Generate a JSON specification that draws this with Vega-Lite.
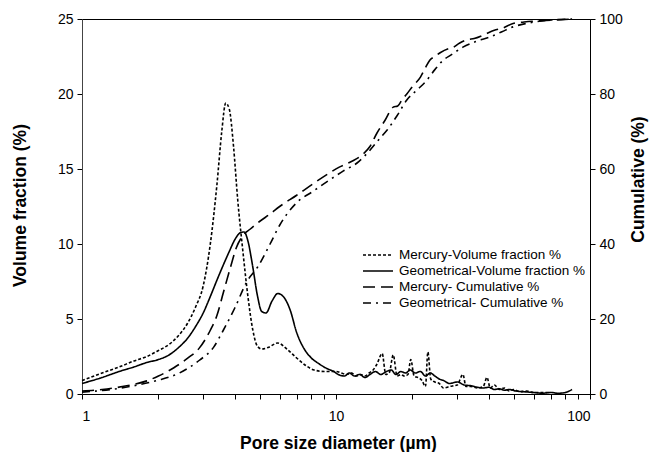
{
  "$schema": "https://vega.github.io/schema/vega-lite/v6.json",
  "autosize": {"type": "none"},
  "width": 508,
  "height": 375,
  "padding": {"left": 82, "top": 19, "right": 59, "bottom": 58},
  "background": "white",
  "config": {
    "view": {"stroke": "black", "strokeWidth": 1},
    "axis": {"grid": false, "labelFont": "Liberation Sans", "labelFontSize": 14, "labelColor": "black", "titleFont": "Liberation Sans", "titleFontSize": 17.5, "titleFontWeight": "bold", "titleColor": "black", "domainColor": "black", "tickColor": "black", "tickSize": 5}
  },
  "datasets": {
    "vol": [
      {"d":1.0,"v":0.9,"s":"Mercury-Volume fraction %"},{"d":1.2,"v":1.4,"s":"Mercury-Volume fraction %"},{"d":1.4,"v":1.8,"s":"Mercury-Volume fraction %"},{"d":1.6,"v":2.2,"s":"Mercury-Volume fraction %"},{"d":1.8,"v":2.5,"s":"Mercury-Volume fraction %"},{"d":2.0,"v":2.9,"s":"Mercury-Volume fraction %"},{"d":2.2,"v":3.3,"s":"Mercury-Volume fraction %"},{"d":2.4,"v":3.9,"s":"Mercury-Volume fraction %"},{"d":2.6,"v":4.7,"s":"Mercury-Volume fraction %"},{"d":2.8,"v":5.8,"s":"Mercury-Volume fraction %"},{"d":3.0,"v":7.2,"s":"Mercury-Volume fraction %"},{"d":3.2,"v":10.0,"s":"Mercury-Volume fraction %"},{"d":3.4,"v":14.0,"s":"Mercury-Volume fraction %"},{"d":3.55,"v":17.5,"s":"Mercury-Volume fraction %"},{"d":3.68,"v":19.4,"s":"Mercury-Volume fraction %"},{"d":3.8,"v":19.0,"s":"Mercury-Volume fraction %"},{"d":3.95,"v":16.5,"s":"Mercury-Volume fraction %"},{"d":4.1,"v":13.0,"s":"Mercury-Volume fraction %"},{"d":4.3,"v":9.5,"s":"Mercury-Volume fraction %"},{"d":4.5,"v":6.5,"s":"Mercury-Volume fraction %"},{"d":4.7,"v":4.3,"s":"Mercury-Volume fraction %"},{"d":4.9,"v":3.2,"s":"Mercury-Volume fraction %"},{"d":5.1,"v":3.0,"s":"Mercury-Volume fraction %"},{"d":5.4,"v":3.1,"s":"Mercury-Volume fraction %"},{"d":5.9,"v":3.4,"s":"Mercury-Volume fraction %"},{"d":6.4,"v":3.0,"s":"Mercury-Volume fraction %"},{"d":7.0,"v":2.4,"s":"Mercury-Volume fraction %"},{"d":7.6,"v":1.9,"s":"Mercury-Volume fraction %"},{"d":8.2,"v":1.6,"s":"Mercury-Volume fraction %"},{"d":9.0,"v":1.5,"s":"Mercury-Volume fraction %"},{"d":10.0,"v":1.5,"s":"Mercury-Volume fraction %"},{"d":10.5,"v":1.4,"s":"Mercury-Volume fraction %"},{"d":11,"v":1.3,"s":"Mercury-Volume fraction %"},{"d":11.5,"v":1.4,"s":"Mercury-Volume fraction %"},{"d":12,"v":1.2,"s":"Mercury-Volume fraction %"},{"d":12.5,"v":1.3,"s":"Mercury-Volume fraction %"},{"d":13,"v":1.2,"s":"Mercury-Volume fraction %"},{"d":13.5,"v":1.4,"s":"Mercury-Volume fraction %"},{"d":14,"v":1.6,"s":"Mercury-Volume fraction %"},{"d":14.5,"v":2.0,"s":"Mercury-Volume fraction %"},{"d":15.2,"v":2.7,"s":"Mercury-Volume fraction %"},{"d":15.7,"v":1.3,"s":"Mercury-Volume fraction %"},{"d":16.2,"v":1.4,"s":"Mercury-Volume fraction %"},{"d":16.8,"v":2.6,"s":"Mercury-Volume fraction %"},{"d":17.4,"v":1.2,"s":"Mercury-Volume fraction %"},{"d":18,"v":1.3,"s":"Mercury-Volume fraction %"},{"d":18.6,"v":1.2,"s":"Mercury-Volume fraction %"},{"d":19.2,"v":1.3,"s":"Mercury-Volume fraction %"},{"d":19.7,"v":2.3,"s":"Mercury-Volume fraction %"},{"d":20.3,"v":1.2,"s":"Mercury-Volume fraction %"},{"d":21,"v":1.1,"s":"Mercury-Volume fraction %"},{"d":21.8,"v":0.9,"s":"Mercury-Volume fraction %"},{"d":22.5,"v":0.5,"s":"Mercury-Volume fraction %"},{"d":23,"v":2.8,"s":"Mercury-Volume fraction %"},{"d":23.6,"v":1.0,"s":"Mercury-Volume fraction %"},{"d":24.5,"v":0.8,"s":"Mercury-Volume fraction %"},{"d":25.5,"v":0.7,"s":"Mercury-Volume fraction %"},{"d":26.5,"v":0.4,"s":"Mercury-Volume fraction %"},{"d":28,"v":0.5,"s":"Mercury-Volume fraction %"},{"d":30,"v":0.6,"s":"Mercury-Volume fraction %"},{"d":31.6,"v":1.3,"s":"Mercury-Volume fraction %"},{"d":32.5,"v":0.5,"s":"Mercury-Volume fraction %"},{"d":34,"v":0.5,"s":"Mercury-Volume fraction %"},{"d":36,"v":0.4,"s":"Mercury-Volume fraction %"},{"d":38,"v":0.5,"s":"Mercury-Volume fraction %"},{"d":39.3,"v":1.1,"s":"Mercury-Volume fraction %"},{"d":40.5,"v":0.4,"s":"Mercury-Volume fraction %"},{"d":42,"v":0.6,"s":"Mercury-Volume fraction %"},{"d":44,"v":0.3,"s":"Mercury-Volume fraction %"},{"d":46,"v":0.4,"s":"Mercury-Volume fraction %"},{"d":48,"v":0.2,"s":"Mercury-Volume fraction %"},{"d":50,"v":0.3,"s":"Mercury-Volume fraction %"},{"d":53,"v":0.15,"s":"Mercury-Volume fraction %"},{"d":56,"v":0.2,"s":"Mercury-Volume fraction %"},{"d":60,"v":0.1,"s":"Mercury-Volume fraction %"},{"d":65,"v":0.1,"s":"Mercury-Volume fraction %"},{"d":70,"v":0.1,"s":"Mercury-Volume fraction %"},

      {"d":1.0,"v":0.7,"s":"Geometrical-Volume fraction %"},{"d":1.2,"v":1.1,"s":"Geometrical-Volume fraction %"},{"d":1.4,"v":1.5,"s":"Geometrical-Volume fraction %"},{"d":1.6,"v":1.8,"s":"Geometrical-Volume fraction %"},{"d":1.8,"v":2.1,"s":"Geometrical-Volume fraction %"},{"d":2.0,"v":2.3,"s":"Geometrical-Volume fraction %"},{"d":2.2,"v":2.6,"s":"Geometrical-Volume fraction %"},{"d":2.4,"v":3.1,"s":"Geometrical-Volume fraction %"},{"d":2.6,"v":3.7,"s":"Geometrical-Volume fraction %"},{"d":2.8,"v":4.5,"s":"Geometrical-Volume fraction %"},{"d":3.0,"v":5.4,"s":"Geometrical-Volume fraction %"},{"d":3.2,"v":6.5,"s":"Geometrical-Volume fraction %"},{"d":3.4,"v":7.6,"s":"Geometrical-Volume fraction %"},{"d":3.6,"v":8.6,"s":"Geometrical-Volume fraction %"},{"d":3.8,"v":9.5,"s":"Geometrical-Volume fraction %"},{"d":4.0,"v":10.3,"s":"Geometrical-Volume fraction %"},{"d":4.2,"v":10.75,"s":"Geometrical-Volume fraction %"},{"d":4.35,"v":10.8,"s":"Geometrical-Volume fraction %"},{"d":4.5,"v":10.2,"s":"Geometrical-Volume fraction %"},{"d":4.7,"v":8.5,"s":"Geometrical-Volume fraction %"},{"d":4.9,"v":6.6,"s":"Geometrical-Volume fraction %"},{"d":5.1,"v":5.5,"s":"Geometrical-Volume fraction %"},{"d":5.3,"v":5.4,"s":"Geometrical-Volume fraction %"},{"d":5.6,"v":6.2,"s":"Geometrical-Volume fraction %"},{"d":5.9,"v":6.7,"s":"Geometrical-Volume fraction %"},{"d":6.2,"v":6.5,"s":"Geometrical-Volume fraction %"},{"d":6.6,"v":5.6,"s":"Geometrical-Volume fraction %"},{"d":7.0,"v":4.1,"s":"Geometrical-Volume fraction %"},{"d":7.5,"v":3.0,"s":"Geometrical-Volume fraction %"},{"d":8.0,"v":2.4,"s":"Geometrical-Volume fraction %"},{"d":8.6,"v":2.0,"s":"Geometrical-Volume fraction %"},{"d":9.2,"v":1.7,"s":"Geometrical-Volume fraction %"},{"d":9.8,"v":1.5,"s":"Geometrical-Volume fraction %"},{"d":10.2,"v":1.3,"s":"Geometrical-Volume fraction %"},{"d":10.8,"v":1.2,"s":"Geometrical-Volume fraction %"},{"d":11.3,"v":1.4,"s":"Geometrical-Volume fraction %"},{"d":11.8,"v":1.2,"s":"Geometrical-Volume fraction %"},{"d":12.4,"v":1.3,"s":"Geometrical-Volume fraction %"},{"d":13,"v":1.1,"s":"Geometrical-Volume fraction %"},{"d":13.6,"v":1.3,"s":"Geometrical-Volume fraction %"},{"d":14.3,"v":1.5,"s":"Geometrical-Volume fraction %"},{"d":15,"v":1.3,"s":"Geometrical-Volume fraction %"},{"d":15.8,"v":1.5,"s":"Geometrical-Volume fraction %"},{"d":16.5,"v":1.6,"s":"Geometrical-Volume fraction %"},{"d":17.2,"v":1.3,"s":"Geometrical-Volume fraction %"},{"d":18,"v":1.5,"s":"Geometrical-Volume fraction %"},{"d":18.8,"v":1.4,"s":"Geometrical-Volume fraction %"},{"d":19.6,"v":1.6,"s":"Geometrical-Volume fraction %"},{"d":20.5,"v":1.4,"s":"Geometrical-Volume fraction %"},{"d":21.5,"v":1.5,"s":"Geometrical-Volume fraction %"},{"d":22.5,"v":1.2,"s":"Geometrical-Volume fraction %"},{"d":23.5,"v":1.4,"s":"Geometrical-Volume fraction %"},{"d":24.5,"v":1.2,"s":"Geometrical-Volume fraction %"},{"d":25.5,"v":1.0,"s":"Geometrical-Volume fraction %"},{"d":26.5,"v":0.9,"s":"Geometrical-Volume fraction %"},{"d":28,"v":0.7,"s":"Geometrical-Volume fraction %"},{"d":30,"v":0.8,"s":"Geometrical-Volume fraction %"},{"d":32,"v":0.6,"s":"Geometrical-Volume fraction %"},{"d":34,"v":0.55,"s":"Geometrical-Volume fraction %"},{"d":36,"v":0.45,"s":"Geometrical-Volume fraction %"},{"d":38,"v":0.4,"s":"Geometrical-Volume fraction %"},{"d":40,"v":0.45,"s":"Geometrical-Volume fraction %"},{"d":42,"v":0.3,"s":"Geometrical-Volume fraction %"},{"d":44,"v":0.35,"s":"Geometrical-Volume fraction %"},{"d":46,"v":0.25,"s":"Geometrical-Volume fraction %"},{"d":48,"v":0.3,"s":"Geometrical-Volume fraction %"},{"d":51,"v":0.2,"s":"Geometrical-Volume fraction %"},{"d":55,"v":0.15,"s":"Geometrical-Volume fraction %"},{"d":60,"v":0.1,"s":"Geometrical-Volume fraction %"},{"d":65,"v":0.05,"s":"Geometrical-Volume fraction %"},{"d":70,"v":0.1,"s":"Geometrical-Volume fraction %"},{"d":75,"v":0.05,"s":"Geometrical-Volume fraction %"},{"d":80,"v":0.1,"s":"Geometrical-Volume fraction %"},{"d":85,"v":0.3,"s":"Geometrical-Volume fraction %"}
    ],
    "cum": [
      {"d":1.0,"c":0.8,"s":"Mercury- Cumulative %"},{"d":1.2,"c":1.2,"s":"Mercury- Cumulative %"},{"d":1.5,"c":2.2,"s":"Mercury- Cumulative %"},{"d":1.8,"c":3.5,"s":"Mercury- Cumulative %"},{"d":2.0,"c":4.8,"s":"Mercury- Cumulative %"},{"d":2.3,"c":7.0,"s":"Mercury- Cumulative %"},{"d":2.6,"c":9.5,"s":"Mercury- Cumulative %"},{"d":2.9,"c":12.3,"s":"Mercury- Cumulative %"},{"d":3.2,"c":17,"s":"Mercury- Cumulative %"},{"d":3.4,"c":21,"s":"Mercury- Cumulative %"},{"d":3.6,"c":27,"s":"Mercury- Cumulative %"},{"d":3.85,"c":34,"s":"Mercury- Cumulative %"},{"d":4.05,"c":39,"s":"Mercury- Cumulative %"},{"d":4.27,"c":42,"s":"Mercury- Cumulative %"},{"d":4.6,"c":44,"s":"Mercury- Cumulative %"},{"d":5.0,"c":46,"s":"Mercury- Cumulative %"},{"d":5.5,"c":48,"s":"Mercury- Cumulative %"},{"d":6.0,"c":50,"s":"Mercury- Cumulative %"},{"d":7.0,"c":53,"s":"Mercury- Cumulative %"},{"d":8.1,"c":56,"s":"Mercury- Cumulative %"},{"d":9.2,"c":58.5,"s":"Mercury- Cumulative %"},{"d":10.3,"c":60.5,"s":"Mercury- Cumulative %"},{"d":11.5,"c":62,"s":"Mercury- Cumulative %"},{"d":12.8,"c":64,"s":"Mercury- Cumulative %"},{"d":13.6,"c":66,"s":"Mercury- Cumulative %"},{"d":14.5,"c":69.6,"s":"Mercury- Cumulative %"},{"d":15.6,"c":73,"s":"Mercury- Cumulative %"},{"d":16.8,"c":76.5,"s":"Mercury- Cumulative %"},{"d":17.5,"c":76.8,"s":"Mercury- Cumulative %"},{"d":18.2,"c":78.5,"s":"Mercury- Cumulative %"},{"d":19.0,"c":80,"s":"Mercury- Cumulative %"},{"d":20,"c":82,"s":"Mercury- Cumulative %"},{"d":21.5,"c":84.5,"s":"Mercury- Cumulative %"},{"d":22.5,"c":87,"s":"Mercury- Cumulative %"},{"d":23.4,"c":89,"s":"Mercury- Cumulative %"},{"d":24.5,"c":90,"s":"Mercury- Cumulative %"},{"d":25.7,"c":91,"s":"Mercury- Cumulative %"},{"d":27.5,"c":92,"s":"Mercury- Cumulative %"},{"d":28.5,"c":92.2,"s":"Mercury- Cumulative %"},{"d":30.7,"c":93.6,"s":"Mercury- Cumulative %"},{"d":33,"c":94.5,"s":"Mercury- Cumulative %"},{"d":35,"c":94.8,"s":"Mercury- Cumulative %"},{"d":38,"c":95.7,"s":"Mercury- Cumulative %"},{"d":42,"c":97,"s":"Mercury- Cumulative %"},{"d":45,"c":97.5,"s":"Mercury- Cumulative %"},{"d":49.8,"c":98.8,"s":"Mercury- Cumulative %"},{"d":55,"c":99.2,"s":"Mercury- Cumulative %"},{"d":67,"c":99.6,"s":"Mercury- Cumulative %"},{"d":85,"c":100,"s":"Mercury- Cumulative %"},

      {"d":1.0,"c":0.5,"s":"Geometrical- Cumulative %"},{"d":1.3,"c":1.2,"s":"Geometrical- Cumulative %"},{"d":1.6,"c":2.2,"s":"Geometrical- Cumulative %"},{"d":2.0,"c":3.7,"s":"Geometrical- Cumulative %"},{"d":2.4,"c":5.5,"s":"Geometrical- Cumulative %"},{"d":2.9,"c":9,"s":"Geometrical- Cumulative %"},{"d":3.3,"c":12.5,"s":"Geometrical- Cumulative %"},{"d":3.6,"c":17,"s":"Geometrical- Cumulative %"},{"d":4.0,"c":23,"s":"Geometrical- Cumulative %"},{"d":4.46,"c":30,"s":"Geometrical- Cumulative %"},{"d":4.93,"c":34,"s":"Geometrical- Cumulative %"},{"d":5.5,"c":40,"s":"Geometrical- Cumulative %"},{"d":6.0,"c":45,"s":"Geometrical- Cumulative %"},{"d":7.0,"c":51,"s":"Geometrical- Cumulative %"},{"d":8.1,"c":54,"s":"Geometrical- Cumulative %"},{"d":9.4,"c":57,"s":"Geometrical- Cumulative %"},{"d":10.7,"c":59.5,"s":"Geometrical- Cumulative %"},{"d":12.1,"c":61.6,"s":"Geometrical- Cumulative %"},{"d":13.6,"c":65,"s":"Geometrical- Cumulative %"},{"d":14.8,"c":68,"s":"Geometrical- Cumulative %"},{"d":15.9,"c":70.4,"s":"Geometrical- Cumulative %"},{"d":17.5,"c":74.5,"s":"Geometrical- Cumulative %"},{"d":19.0,"c":78.4,"s":"Geometrical- Cumulative %"},{"d":20.8,"c":81,"s":"Geometrical- Cumulative %"},{"d":22.8,"c":83.7,"s":"Geometrical- Cumulative %"},{"d":24.5,"c":86.5,"s":"Geometrical- Cumulative %"},{"d":26.4,"c":89,"s":"Geometrical- Cumulative %"},{"d":28.5,"c":90.5,"s":"Geometrical- Cumulative %"},{"d":31.6,"c":92.5,"s":"Geometrical- Cumulative %"},{"d":35.5,"c":94,"s":"Geometrical- Cumulative %"},{"d":40.4,"c":95.2,"s":"Geometrical- Cumulative %"},{"d":45,"c":96.6,"s":"Geometrical- Cumulative %"},{"d":49.8,"c":97.9,"s":"Geometrical- Cumulative %"},{"d":56,"c":98.8,"s":"Geometrical- Cumulative %"},{"d":67,"c":99.6,"s":"Geometrical- Cumulative %"},{"d":85,"c":100,"s":"Geometrical- Cumulative %"}
    ]
  },
  "encoding": {
    "x": {
      "field": "d", "type": "quantitative",
      "scale": {"type": "log", "domain": [1, 100], "nice": false},
      "axis": {
        "title": "Pore size diameter (µm)",
        "values": [1,2,3,4,5,6,7,8,9,10,20,30,40,50,60,70,80,90,100],
        "labelExpr": "datum.value == 1 || datum.value == 10 || datum.value == 100 ? datum.value : ''",
        "labelPadding": 10,
        "titleX": 256, "titleY": 49, "titleBaseline": "middle", "titleAlign": "center"
      }
    }
  },
  "layer": [
    {
      "data": {"name": "vol"},
      "mark": {"type": "line", "interpolate": "monotone", "strokeWidth": 1.6, "color": "black"},
      "encoding": {
        "y": {
          "field": "v", "type": "quantitative",
          "scale": {"domain": [0, 25], "nice": false},
          "axis": {"title": "Volume fraction (%)", "values": [0,5,10,15,20,25], "orient": "left", "domainColor": "#444", "titleX": -62, "titleY": 186, "titleBaseline": "middle", "titleAlign": "center", "titleAngle": -90, "labelPadding": 4}
        },
        "strokeDash": {
          "field": "s", "type": "nominal",
          "scale": {
            "domain": ["Mercury-Volume fraction %", "Geometrical-Volume fraction %", "Mercury- Cumulative %", "Geometrical- Cumulative %"],
            "range": [[3, 2], [1, 0], [12, 6], [8, 5, 2, 5]]
          },
          "legend": {
            "title": null, "orient": "none", "legendX": 280, "legendY": 228,
            "symbolType": "stroke", "symbolSize": 900, "symbolStrokeWidth": 1.6, "symbolStrokeColor": "black",
            "clipHeight": 16, "rowPadding": 0, "labelOffset": 5,
            "labelFont": "Liberation Sans Narrow, Liberation Sans", "labelFontSize": 13.5, "labelColor": "black", "labelLimit": 300
          }
        },
        "detail": {"field": "s"}
      }
    },
    {
      "data": {"name": "cum"},
      "mark": {"type": "line", "interpolate": "monotone", "strokeWidth": 1.6, "color": "black"},
      "encoding": {
        "y": {
          "field": "c", "type": "quantitative",
          "scale": {"domain": [0, 100], "nice": false},
          "axis": {"title": "Cumulative (%)", "values": [0,20,40,60,80,100], "orient": "right", "titleX": 48, "titleY": 160, "titleBaseline": "middle", "titleAlign": "center", "titleAngle": -90, "labelPadding": 4}
        },
        "strokeDash": {"field": "s", "type": "nominal"},
        "detail": {"field": "s"}
      }
    }
  ],
  "resolve": {"scale": {"y": "independent"}}
}
